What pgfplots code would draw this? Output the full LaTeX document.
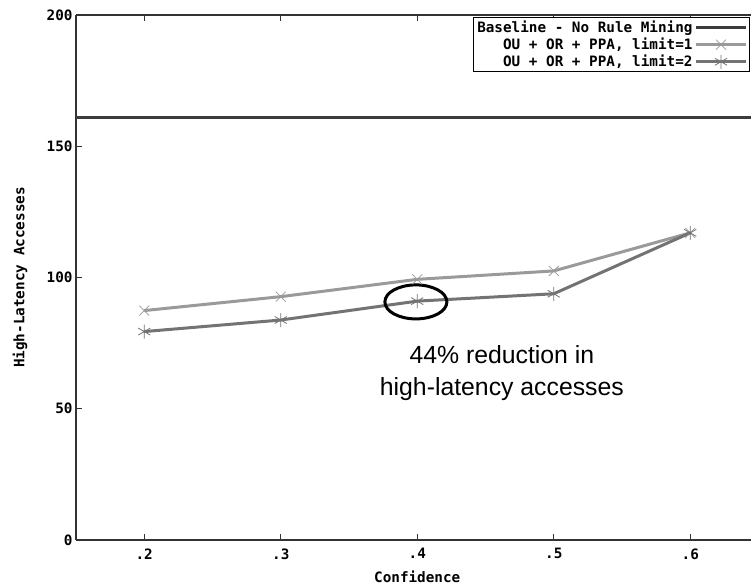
\documentclass[border=0pt]{standalone}
\usepackage{pgfplots}
\pgfplotsset{compat=1.18}
\usepackage{fontspec}
\setmainfont{Liberation Sans}
\newfontfamily\monob{DejaVu Sans Mono}[BoldFont={DejaVu Sans Mono Bold}]
\newcommand\mfont{\monob\bfseries\fontsize{14.3bp}{15bp}\selectfont}
\definecolor{basec}{HTML}{3C3C3C}
\definecolor{lightc}{HTML}{9A9A9A}
\definecolor{darkc}{HTML}{737373}
\begin{document}
\begin{tikzpicture}
\path[use as bounding box] (-76bp,-48bp) rectangle (675bp,540bp);
\begin{axis}[
  at={(0,0)}, anchor=south west,
  scale only axis, width=682.5bp, height=525bp,
  xmin=0.15, xmax=0.65, ymin=0, ymax=200,
  axis x line*=box, axis y line*=left,
  axis line style={line width=1.2bp, black!80},
  xtick={0.2,0.3,0.4,0.5,0.6}, xticklabels={.2,.3,.4,.5,.6},
  ytick={0,50,100,150,200}, yticklabels={0,50,100,150,200},
  xtick pos=both, ytick pos=left,
  tick align=inside, major tick length=6bp,
  tick style={line width=0.8bp, black!80},
  /pgf/number format/assume math mode=true,
  tick label style={font=\mfont},
  xticklabel style={yshift=-5bp},
  yticklabel style={xshift=0bp},
  xlabel={Confidence}, ylabel={High-Latency Accesses},
  every axis x label/.style={at={(rel axis cs:0.5,0)}, yshift=-37bp, anchor=center, font=\mfont},
  every axis y label/.style={at={(rel axis cs:0,0.5)}, xshift=-56bp, rotate=90, anchor=center, font=\mfont},
  legend style={at={(1,1)}, anchor=north east, xshift=-9bp, yshift=-2bp,
    font=\mfont, draw=black, line width=1bp, inner sep=1.5bp, row sep=0bp,
    cells={anchor=east}},
  legend plot pos=right,
  legend image code/.code={\draw[#1, mark repeat=2, mark phase=2] plot coordinates {(0,0) (25bp,0) (50bp,0)};},
]
\addplot[basec, line width=3bp, mark=none] coordinates {(0.15,161) (0.65,161)};
\addlegendentry{Baseline - No Rule Mining}
\addplot[lightc, line width=3bp, mark=x, mark size=7bp, mark options={line width=0.8bp}] coordinates {
(0.2,87.4) (0.3,92.7) (0.4,99.3) (0.5,102.5) (0.6,117)};
\addlegendentry{OU + OR + PPA, limit=1}
\addplot[darkc, line width=3bp, mark=asterisk, mark size=7bp, mark options={line width=0.8bp}] coordinates {
(0.2,79.4) (0.3,83.8) (0.4,91) (0.5,93.8) (0.6,117)};
\addlegendentry{OU + OR + PPA, limit=2}
\draw[black, line width=3bp] (axis cs:0.399,90.7) ellipse [x radius=31bp, y radius=17bp];
\node[font=\fontsize{24.8bp}{31.5bp}\selectfont, align=center] at (axis cs:0.462,63.5) {44\% reduction in\\high-latency accesses};
\end{axis}
\end{tikzpicture}
\end{document}
